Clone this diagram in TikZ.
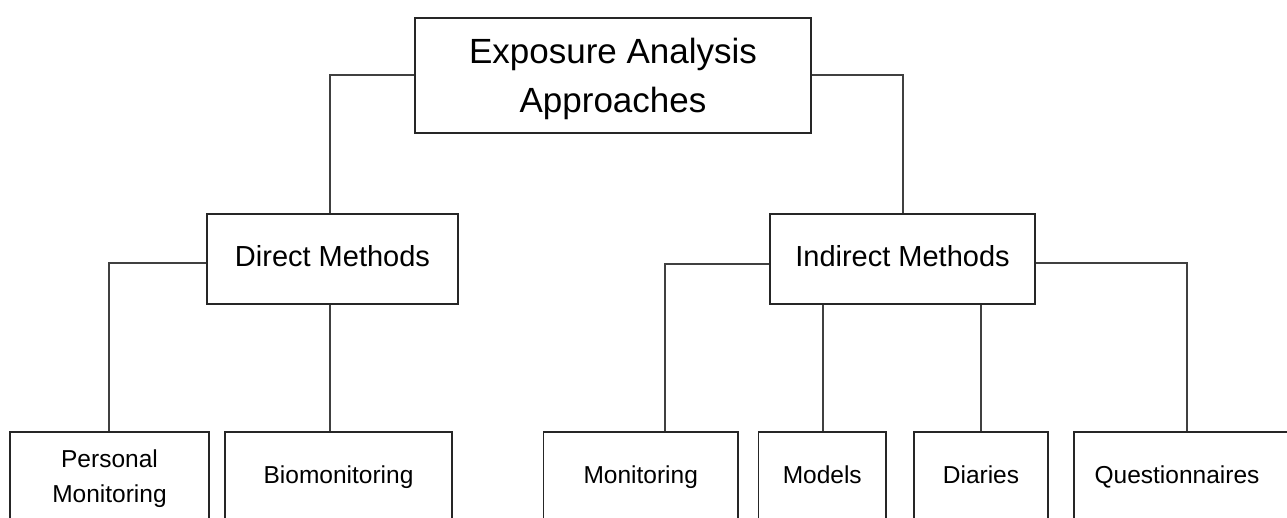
\documentclass[tikz,border=0pt]{standalone}
\usepackage{fontspec}
\setmainfont{Liberation Sans}
\begin{document}
\begin{tikzpicture}[x=1pt, y=-1pt,
  box/.style={draw=black!85, line width=1.5pt, fill=white, inner sep=0pt, align=center},
  conn/.style={draw=black!75, line width=1.5pt},
  topfont/.style={font=\fontsize{35}{49.6}\selectfont, text height=74.6pt, text depth=0pt},
  midfont/.style={font=\fontsize{29}{35}\selectfont, text height=20.8pt, text depth=5pt},
  lowfont/.style={font=\fontsize{24.5}{35}\selectfont, text height=17.5pt, text depth=2pt}]
\useasboundingbox (0,0) rectangle (1287,517);
\clip (0,0) rectangle (1287,517);

% root
\node[box, topfont, minimum width=396pt, minimum height=115pt] (top) at (613,75.5)
  {Exposure Analysis\\Approaches};

% second level
\node[box, midfont, minimum width=251pt, minimum height=90pt] (direct) at (332.5,259) {Direct Methods};
\node[box, midfont, minimum width=265pt, minimum height=90pt] (indirect) at (902.5,259) {Indirect Methods};

% leaves (their lower edges run past the page)
\node[box, lowfont, minimum width=199pt, minimum height=88pt,
  text height=53pt, text depth=0pt] (pers) at (109.5,476) {Personal\\Monitoring};
\node[box, lowfont, minimum width=227pt, minimum height=88pt] (bio) at (338.5,476) {Biomonitoring};
\node[box, lowfont, minimum width=194.5pt, minimum height=88pt] (mon) at (640.75,476) {Monitoring};
\node[box, lowfont, minimum width=127.5pt, minimum height=88pt] (mod) at (822.25,476) {Models};
\node[box, lowfont, minimum width=134pt, minimum height=88pt] (dia) at (981,476) {Diaries};
\node[box, lowfont, minimum width=226pt, minimum height=88pt] (que) at (1187,476) {\hspace*{-20pt}Questionnaires};

% connectors
\draw[conn] ([yshift=0.5pt]top.west) -| ([xshift=-2.5pt]direct.north);
\draw[conn] ([yshift=0.5pt]top.east) -| ([xshift=0.5pt]indirect.north);
\draw[conn] ([yshift=-4pt]direct.west) -| ([xshift=-0.5pt]pers.north);
\draw[conn] ([xshift=-2.5pt]direct.south) -- ([xshift=-2.5pt]direct.south |- bio.north);
\draw[conn] ([yshift=-5pt]indirect.west) -| ([xshift=24.25pt]mon.north);
\draw[conn] ([xshift=0.75pt]mod.north |- indirect.south) -- ([xshift=0.75pt]mod.north);
\draw[conn] (dia.north |- indirect.south) -- (dia.north);
\draw[conn] ([yshift=-4pt]indirect.east) -| (que.north);
\end{tikzpicture}
\end{document}
